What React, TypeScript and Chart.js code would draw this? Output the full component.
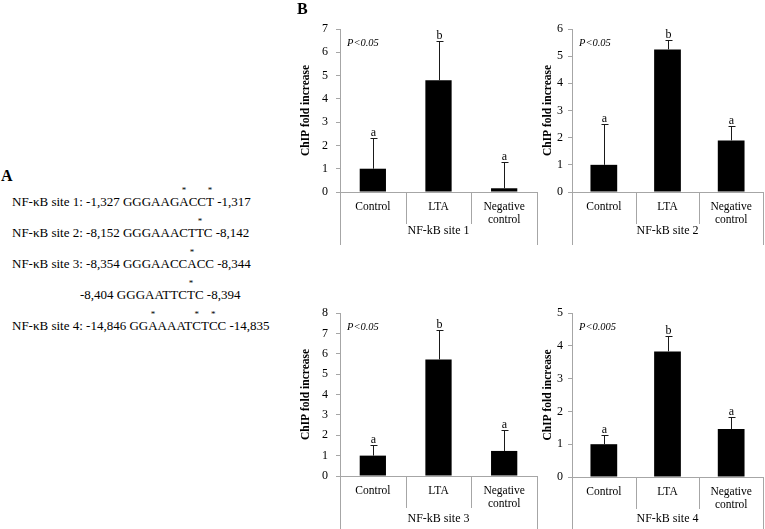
import React, { useEffect, useRef } from "react";
import { Chart, registerables } from "chart.js";

Chart.register(...registerables);

// ---------- data ----------
const categories = [["Control"], ["LTA"], ["Negative", "control"]];
const siteTitles = ["NF-kB site 1", "NF-kB site 2", "NF-kB site 3", "NF-kB site 4"];

const site1Values = [1.0, 4.8, 0.16];
const site1Errors = [1.31, 1.7, 1.12];
const site1Letters = ["a", "b", "a"];

const site2Values = [1.0, 5.25, 1.9];
const site2Errors = [1.51, 0.33, 0.52];
const site2Letters = ["a", "b", "a"];

const site3Values = [1.0, 5.72, 1.23];
const site3Errors = [0.53, 1.46, 1.04];
const site3Letters = ["a", "b", "a"];

const site4Values = [1.0, 3.83, 1.46];
const site4Errors = [0.27, 0.48, 0.38];
const site4Letters = ["a", "b", "a"];

const pTexts = ["P<0.05", "P<0.05", "P<0.05", "P<0.005"];
const yMaxes = [7, 6, 8, 5];

// panel A text
const seqNames = ["NF-\u03BAB site 1: ", "NF-\u03BAB site 2: ", "NF-\u03BAB site 3: ", "", "NF-\u03BAB site 4: "];
const seqStarts = ["-1,327", "-8,152", "-8,354", "-8,404", "-14,846"];
const seqBases = ["GGGAAGACCT", "GGGAAACTTC", "GGGAACCACC", "GGGAATTCTC", "GGAAAATCTCC"];
const seqEnds = ["-1,317", "-8,142", "-8,344", "-8,394", "-14,835"];
const seqStars = [[6, 9], [8], [7], [8], [2, 7, 9]];

const SERIF = '"Liberation Serif", "Times New Roman", serif';
const GRAY = "#a6a6a6";

// ---------- plugin ----------
const annotPlugin = {
  id: "annot",
  afterDatasetsDraw(chart: any, _args: any, opts: any) {
    const ctx = chart.ctx;
    const xs = chart.scales.x;
    const ys = chart.scales.y;
    const { values, errors, letters, pText, site, siteOffset, outerLen } = opts;
    ctx.save();
    // error bars + letters
    values.forEach((v: number, i: number) => {
      const cx = Math.round(xs.getPixelForValue(i)) + 0.5;
      const y0 = ys.getPixelForValue(v);
      const y1 = Math.round(ys.getPixelForValue(v + errors[i])) + 0.5;
      ctx.strokeStyle = "#1a1a1a";
      ctx.lineWidth = 1;
      ctx.beginPath();
      ctx.moveTo(cx, y0);
      ctx.lineTo(cx, y1);
      ctx.moveTo(cx - 3, y1);
      ctx.lineTo(cx + 4, y1);
      ctx.stroke();
      ctx.fillStyle = "#000";
      ctx.font = `12px ${SERIF}`;
      ctx.textAlign = "center";
      ctx.textBaseline = "alphabetic";
      ctx.fillText(letters[i], cx, y1 - 3);
    });
    // category dividers
    const axisY = ys.bottom;
    ctx.strokeStyle = GRAY;
    ctx.lineWidth = 1;
    for (let i = 0; i <= values.length; i++) {
      const bx = Math.round(xs.getPixelForValue(i - 0.5)) + 0.5;
      const len = i === 0 || i === values.length ? outerLen : 32;
      ctx.beginPath();
      ctx.moveTo(bx, axisY);
      ctx.lineTo(bx, axisY + len);
      ctx.stroke();
    }
    // group label
    ctx.fillStyle = "#000";
    ctx.font = `12px ${SERIF}`;
    ctx.textAlign = "center";
    ctx.textBaseline = "middle";
    ctx.fillText(site, (xs.left + xs.right) / 2, axisY + siteOffset);
    // p value
    ctx.font = `italic 10.5px ${SERIF}`;
    ctx.textAlign = "left";
    ctx.fillText(pText, xs.left + 7, ys.top + 14);
    ctx.restore();
  },
};

type PanelProps = {
  values: number[];
  errors: number[];
  letters: string[];
  pText: string;
  site: string;
  yMax: number;
  left: number;
  top: number;
  width: number;
  height: number;
  yAxisWidth: number;
  padTop: number;
  padRight: number;
  xAxisHeight: number;
  titlePad: number;
  tickPad: number;
  siteOffset: number;
  outerLen: number;
  barPct: number;
};

function Panel(p: PanelProps) {
  const ref = useRef<HTMLCanvasElement | null>(null);
  useEffect(() => {
    if (!ref.current) return;
    const chart = new Chart(ref.current, {
      type: "bar",
      data: {
        labels: categories as any,
        datasets: [
          {
            data: p.values,
            backgroundColor: "#000",
            borderWidth: 0,
            barPercentage: p.barPct,
            categoryPercentage: 1,
          },
        ],
      },
      plugins: [annotPlugin as any],
      options: {
        responsive: false,
        animation: false,
        devicePixelRatio: 1,
        layout: { padding: { top: p.padTop, right: p.padRight, left: 0, bottom: 0 } },
        plugins: {
          legend: { display: false },
          tooltip: { enabled: false },
          annot: {
            values: p.values,
            errors: p.errors,
            letters: p.letters,
            pText: p.pText,
            site: p.site,
            siteOffset: p.siteOffset,
            outerLen: p.outerLen,
          },
        } as any,
        scales: {
          x: {
            type: "category",
            offset: true,
            grid: { display: false },
            border: { display: true, color: GRAY, width: 1 },
            ticks: {
              color: "#000",
              font: { family: SERIF, size: 11.5, lineHeight: 1.13 },
              padding: 0,
              maxRotation: 0,
              autoSkip: false,
            },
            afterFit: (s: any) => {
              s.height = p.xAxisHeight;
            },
          },
          y: {
            min: 0,
            max: p.yMax,
            ticks: {
              stepSize: 1,
              color: "#000",
              font: { family: SERIF, size: 12 },
              padding: p.tickPad,
            },
            grid: { drawOnChartArea: false, drawTicks: true, tickLength: 4, color: GRAY },
            border: { display: true, color: GRAY, width: 1 },
            title: {
              display: true,
              text: "ChIP fold increase",
              color: "#000",
              font: { family: SERIF, size: 11.5, weight: "bold" },
              padding: { top: p.titlePad, bottom: 0 },
            },
            afterFit: (s: any) => {
              s.width = p.yAxisWidth;
            },
          },
        },
      } as any,
    });
    return () => chart.destroy();
  }, []);
  return (
    <canvas
      ref={ref}
      width={p.width}
      height={p.height}
      style={{
        position: "absolute",
        left: p.left,
        top: p.top,
        width: p.width,
        height: p.height,
        display: "block",
      }}
    />
  );
}

function SeqLine({ idx, top, left }: { idx: number; top: number; left: number }) {
  const bases = seqBases[idx].split("");
  return (
    <div
      style={{
        position: "absolute",
        left,
        top,
        height: 20,
        lineHeight: "20px",
        fontSize: 13,
        fontFamily: SERIF,
        color: "#000",
        whiteSpace: "pre",
      }}
    >
      {seqNames[idx]}
      {seqStarts[idx]}{" "}
      {bases.map((b, i) =>
        seqStars[idx].includes(i) ? (
          <span key={i} style={{ position: "relative" }}>
            {b}
            <span
              style={{
                position: "absolute",
                left: "50%",
                top: -8,
                transform: "translateX(-50%)",
                fontSize: 9,
                lineHeight: "9px",
              }}
            >
              *
            </span>
          </span>
        ) : (
          <span key={i}>{b}</span>
        )
      )}{" "}
      {seqEnds[idx]}
    </div>
  );
}

export default function App() {
  const common = { padRight: 0, tickPad: 8, outerLen: 53, barPct: 0.4 };
  return (
    <div
      style={{
        position: "absolute",
        left: 0,
        top: 0,
        width: 765,
        height: 529,
        overflow: "hidden",
        background: "#fff",
      }}
    >
      <div
        style={{
          position: "absolute",
          left: 1,
          top: 166,
          fontFamily: SERIF,
          fontWeight: "bold",
          fontSize: 16,
          lineHeight: "20px",
        }}
      >
        A
      </div>
      <SeqLine idx={0} top={192} left={12} />
      <SeqLine idx={1} top={223} left={12} />
      <SeqLine idx={2} top={254} left={12} />
      <SeqLine idx={3} top={285} left={80} />
      <SeqLine idx={4} top={316} left={12} />

      <Panel
        {...common}
        values={site1Values}
        errors={site1Errors}
        letters={site1Letters}
        pText={pTexts[0]}
        site={siteTitles[0]}
        yMax={yMaxes[0]}
        left={290}
        top={0}
        width={250}
        height={255}
        yAxisWidth={50}
        padTop={29}
        padRight={3}
        xAxisHeight={63}
        titlePad={9}
        siteOffset={39}
      />
      <Panel
        {...common}
        values={site2Values}
        errors={site2Errors}
        letters={site2Letters}
        pText={pTexts[1]}
        site={siteTitles[1]}
        yMax={yMaxes[1]}
        left={530}
        top={0}
        width={235}
        height={255}
        yAxisWidth={42}
        padTop={29}
        padRight={2}
        xAxisHeight={63}
        titlePad={11}
        tickPad={5}
        siteOffset={39}
        barPct={0.42}
      />
      <Panel
        {...common}
        values={site3Values}
        errors={site3Errors}
        letters={site3Letters}
        pText={pTexts[2]}
        site={siteTitles[2]}
        yMax={yMaxes[2]}
        left={290}
        top={260}
        width={250}
        height={269}
        yAxisWidth={50}
        padTop={53}
        padRight={3}
        xAxisHeight={53}
        titlePad={9}
        siteOffset={43}
        outerLen={60}
      />
      <Panel
        {...common}
        values={site4Values}
        errors={site4Errors}
        letters={site4Letters}
        pText={pTexts[3]}
        site={siteTitles[3]}
        yMax={yMaxes[3]}
        left={530}
        top={260}
        width={235}
        height={269}
        yAxisWidth={42}
        padTop={53}
        padRight={2}
        xAxisHeight={52}
        titlePad={11}
        tickPad={5}
        siteOffset={42}
        outerLen={60}
        barPct={0.42}
      />
      <div
        style={{
          position: "absolute",
          left: 297,
          top: -1,
          fontFamily: SERIF,
          fontWeight: "bold",
          fontSize: 16,
          lineHeight: "20px",
        }}
      >
        B
      </div>
    </div>
  );
}
